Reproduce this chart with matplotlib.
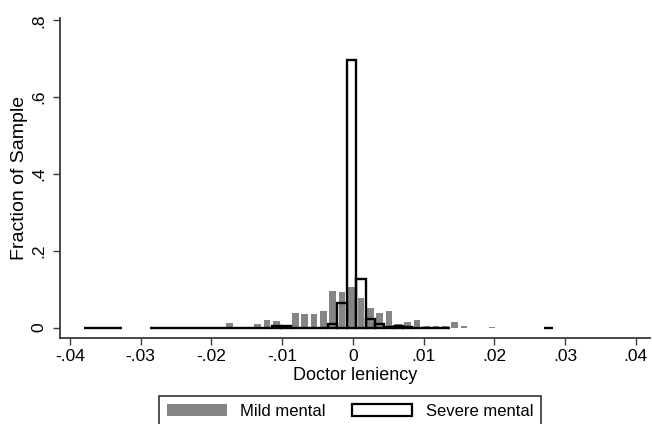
import numpy as np
import matplotlib.pyplot as plt
from matplotlib.patches import Patch

plt.rcParams['font.family'] = ['Liberation Sans', 'DejaVu Sans']

# histogram bins (doctor leniency), first bin center and width
bin_first = -0.0373
bin_width = 0.001325

# fraction of sample per bin, bins -28 .. 21 around zero
mild = [0, 0, 0, 0, 0, 0, 0, 0, 0, 0,
        0, 0, 0.002, 0, 0.002, 0.011, 0, 0, 0.008, 0.0195,
        0.016, 0.006, 0.039, 0.034, 0.034, 0.042, 0.094, 0.092, 0.106, 0.077,
        0.050, 0.037, 0.042, 0.008, 0.0135, 0.0195, 0.003, 0.005, 0.005, 0.015,
        0.003, 0, 0, 0.002, 0, 0, 0, 0, 0, 0]
severe = [0, 0, 0, 0, None, None, None, 0, 0, 0,
          0, 0, 0, 0, 0, 0, 0, 0, 0, 0,
          0.005, 0.003, 0, 0, 0, 0, 0.010, 0.064, 0.696, 0.1255,
          0.021, 0.009, 0.002, 0.005, 0.002, 0, 0, 0, 0, None,
          None, None, None, None, None, None, None, None, None, 0]

x_ticks = [-0.04, -0.03, -0.02, -0.01, 0, 0.01, 0.02, 0.03, 0.04]
x_ticklabels = ["-.04", "-.03", "-.02", "-.01", "0", ".01", ".02", ".03", ".04"]
y_ticks = [0, 0.2, 0.4, 0.6, 0.8]
y_ticklabels = ["0", ".2", ".4", ".6", ".8"]

centers = bin_first + bin_width * np.arange(len(mild))

fig = plt.figure(figsize=(6.52, 4.24), dpi=100)
ax = fig.add_axes([0.092, 0.2028, 0.905, 0.7547])

grey = "#858585"
ax.bar(centers, mild, width=bin_width * 0.7, color=grey, linewidth=0, zorder=2)

sev_x = [c for c, v in zip(centers, severe) if v is not None]
sev_h = [v for v in severe if v is not None]
ax.bar(sev_x, sev_h, width=bin_width, facecolor="none", edgecolor="black",
       linewidth=1.7, zorder=3)

ax.set_xlim(-0.0414, 0.0420)
ax.set_ylim(-0.0273, 0.806)

axis_col = "#3a3a3a"
for side in ["top", "right"]:
    ax.spines[side].set_visible(False)
for side in ["left", "bottom"]:
    ax.spines[side].set_color(axis_col)
    ax.spines[side].set_linewidth(1.3)

ax.set_xticks(x_ticks)
ax.set_xticklabels(x_ticklabels)
ax.set_yticks(y_ticks)
ax.set_yticklabels(y_ticklabels, rotation=90, va="center")
ax.tick_params(direction="out", length=5, width=1, color=axis_col,
               labelsize=12.5, pad=3)
ax.tick_params(axis="y", pad=5)

ax.set_xlabel("Doctor leniency", fontsize=13, labelpad=2)
ax.set_ylabel("Fraction of Sample", fontsize=14, labelpad=2)

handles = [Patch(facecolor=grey, edgecolor=grey, linewidth=0),
           Patch(facecolor="white", edgecolor="black", linewidth=1.6)]
leg = fig.legend(handles, ["Mild mental", "Severe mental"], ncol=2,
                 loc="upper center", bbox_to_anchor=(0.537, 0.066),
                 borderaxespad=0, fontsize=12, frameon=True, fancybox=False,
                 handlelength=3.6, handleheight=0.75, handletextpad=0.8,
                 columnspacing=1.6, borderpad=0.45)
leg.get_frame().set_edgecolor("black")
leg.get_frame().set_linewidth(1.2)

fig.savefig("out.png", dpi=100)
